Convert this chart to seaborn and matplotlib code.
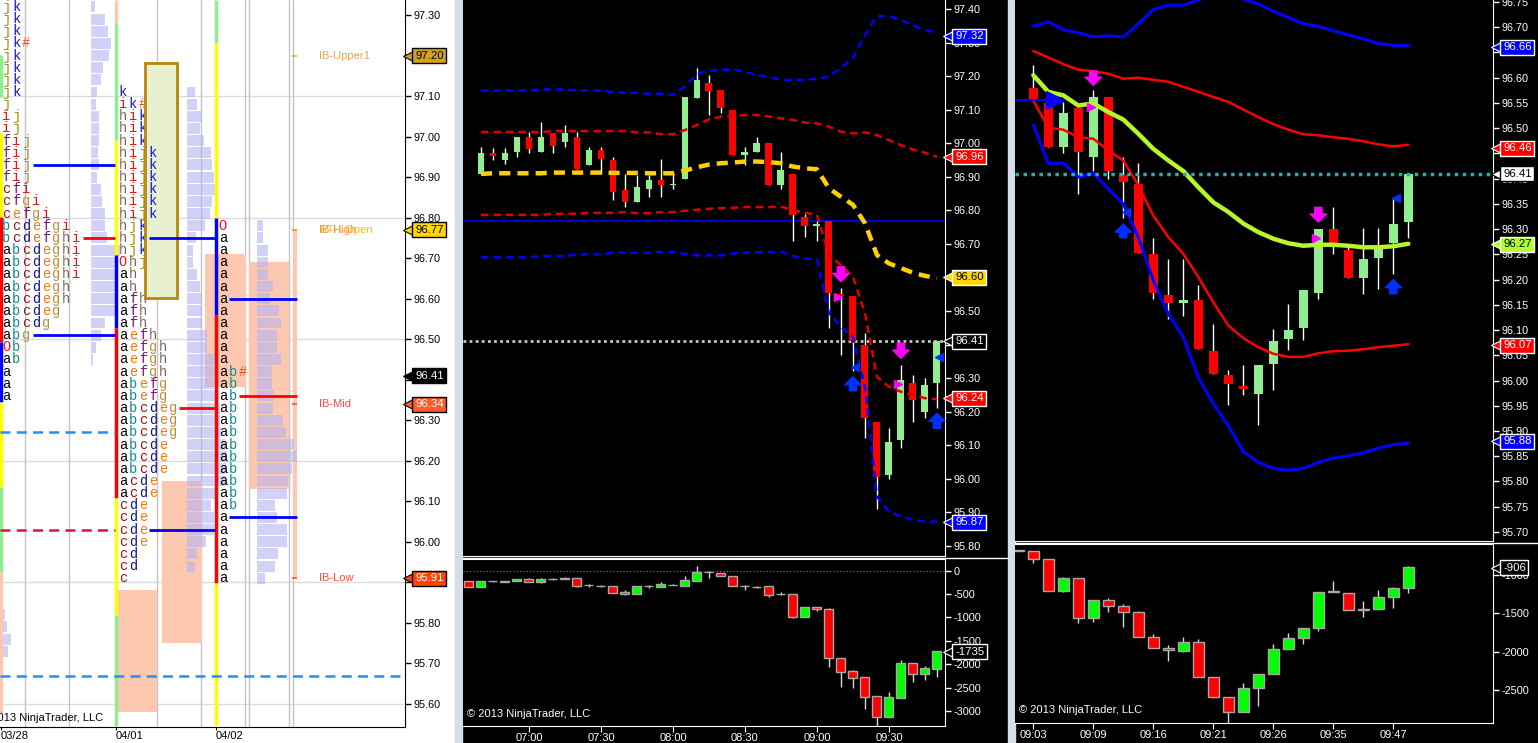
import matplotlib
matplotlib.use("Agg")
import matplotlib.pyplot as plt
import matplotlib.transforms as mtrans
from matplotlib.patches import Rectangle
from matplotlib.lines import Line2D
import numpy as np
import seaborn as sns

W, H = 1538, 743

# ---------------- left panel: TPO market profile ----------------
ROW = 0.03
S1_TOP = 97.32
S1_ROWS = ["jk", "jk", "jk", "jk#", "jk", "jk", "jk", "jk", "j", "ij", "ij",
           "fij", "fij", "fij", "fij", "cfi", "cfgi", "cefgi", "bcdefgi",
           "bcdefghi", "abcdeghi", "abcdeghi", "abcdeghi", "abcdegh",
           "abcdegh", "abcdeg", "abcdg", "abg", "Ob", "ab", "a", "a", "a"]
S2_TOP = 97.11
S2_ROWS = ["k", "ik#", "hik", "hik", "hik", "hijk", "hijk", "hijk", "hijk",
           "hijk", "hijk", "hjk", "hjk", "hjk", "Ohj", "ah", "ah", "afh",
           "afh", "afh", "aefh", "aefgh", "aefgh", "aefgh", "abefg", "abefg",
           "abcdeg", "abcdeg", "abcdeg", "abcde", "abcde", "abcde", "acde",
           "acde", "cde", "cde", "cde", "cde", "cd", "cd", "c"]
S3_TOP = 96.78
S3_ROWS = ["O", "a", "a", "a", "a", "a", "a", "a", "a", "a", "a", "a", "ab#",
           "ab", "ab", "ab", "ab", "ab", "ab", "ab", "ab", "ab", "ab", "ab",
           "a", "a", "a", "a", "a", "a"]
S0_TOP = 95.91

S1_HIST = [4, 14, 17, 20, 18, 12, 10, 6, 5, 8, 8, 8, 7, 8, 6, 10, 11, 14, 14,
           16, 29, 27, 25, 26, 24, 24, 14, 10, 5, 2]
S2_HIST = [8, 10, 15, 13, 17, 24, 25, 27, 28, 25, 23, 18, 9, 6, 6, 10, 13, 14,
           15, 15, 20, 20, 27, 27, 27, 32, 33, 33, 34, 38, 40, 39, 39, 28, 24,
           27, 27, 19, 10, 8, 0]
S3_HIST = [6, 6, 11, 11, 11, 16, 13, 22, 24, 20, 20, 24, 15, 15, 17, 16, 26,
           29, 37, 40, 35, 31, 30, 18, 20, 30, 30, 21, 18, 8]
S0_HIST = [1, 2, 3, 5, 7, 11, 8]

VAH = [96.93, 96.75, 96.60]
VAL = [96.51, 96.03, 96.06]
POC = [96.75, 96.33, 96.36]
BLUE_DASH = [96.27, 95.67]
RED_DASH = [96.03]
BOX_HIGH = [95.881, 96.149, 96.71, 96.69, 96.77]
BOX_LOW = [95.58, 95.75, 96.383, 96.13, 95.91]
IB_BOX = [97.181, 96.601]

EDGE0_TOP = [97.201, 97.009, 96.802, 96.493, 96.345, 96.135, 95.926]
EDGE0_BOT = [97.098, 96.802, 96.493, 96.345, 96.135, 95.926, 95.578]
EDGE1_TOP = [97.337, 97.280, 96.992, 96.708, 96.528, 96.108, 95.820]
EDGE1_BOT = [97.280, 96.992, 96.708, 96.528, 96.108, 95.820, 95.546]
EDGE2_TOP = [97.337, 97.231, 96.799, 96.560, 95.899]
EDGE2_BOT = [97.231, 96.799, 96.560, 95.899, 95.546]

LEVEL_NAMES = ["IB-Upper1", "RTH-Open", "IB-High", "IB-Mid", "IB-Low"]
LEVEL_PRICES = [97.20, 96.77, 96.77, 96.34, 95.91]
LEFT_TAGS = [97.20, 96.77, 96.41, 96.34, 95.91]
DATE_LABELS = ["03/28", "04/01", "04/02"]

# ---------------- middle panel: 5 minute bars ----------------
MID_START = "06:40"
MID_TIMES = ["07:00", "07:30", "08:00", "08:30", "09:00", "09:30"]
M_OPEN = [96.91, 96.97, 96.95, 96.975, 97.02, 96.975, 97.03, 97.005, 97.02,
          96.935, 96.98, 96.95, 96.86, 96.825, 96.865, 96.89, 96.875, 96.895,
          97.135, 97.18, 97.16, 97.10, 96.966, 96.975, 97.0, 96.875, 96.91,
          96.78, 96.755, 96.77, 96.55, 96.545, 96.40, 96.17, 96.01, 96.115,
          96.285, 96.2, 96.285]
M_HIGH = [96.99, 96.985, 96.985, 97.02, 97.035, 97.065, 97.03, 97.055,
          97.035, 96.99, 96.99, 96.96, 96.91, 96.905, 96.905, 96.955, 96.91,
          97.14, 97.225, 97.205, 97.16, 97.10, 96.99, 97.02, 97.0, 96.975,
          96.91, 96.79, 96.77, 96.77, 96.57, 96.545, 96.435, 96.17, 96.15,
          96.34, 96.31, 96.30, 96.41]
M_LOW = [96.91, 96.95, 96.94, 96.96, 96.97, 96.975, 96.97, 96.99, 96.925,
         96.935, 96.91, 96.83, 96.81, 96.825, 96.84, 96.84, 96.865, 96.895,
         97.135, 97.085, 97.09, 96.965, 96.935, 96.975, 96.875, 96.863, 96.71,
         96.72, 96.71, 96.45, 96.37, 96.32, 96.12, 95.91, 96.0, 96.09, 96.17,
         96.18, 96.21]
M_CLOSE = [96.97, 96.963, 96.97, 97.02, 96.983, 97.02, 96.993, 97.03, 96.925,
           96.98, 96.955, 96.855, 96.825, 96.87, 96.89, 96.875, 96.88, 97.14,
           97.19, 97.155, 97.105, 96.965, 96.974, 97.0, 96.875, 96.92, 96.785,
           96.755, 96.76, 96.555, 96.545, 96.41, 96.18, 96.005, 96.11, 96.295,
           96.235, 96.28, 96.41]
M_UP2 = [97.158, 97.158, 97.158, 97.158, 97.158, 97.161, 97.161, 97.161,
         97.158, 97.158, 97.158, 97.153, 97.151, 97.151, 97.148, 97.148,
         97.145, 97.169, 97.207, 97.217, 97.22, 97.22, 97.213, 97.204, 97.198,
         97.19, 97.19, 97.19, 97.193, 97.2, 97.225, 97.255, 97.324, 97.38,
         97.38, 97.368, 97.353, 97.338, 97.33]
M_UP1 = [97.034, 97.034, 97.034, 97.034, 97.034, 97.034, 97.037, 97.037,
         97.037, 97.037, 97.037, 97.037, 97.037, 97.033, 97.033, 97.028,
         97.027, 97.04, 97.055, 97.072, 97.08, 97.082, 97.085, 97.085, 97.08,
         97.075, 97.07, 97.062, 97.06, 97.05, 97.035, 97.03, 97.033, 97.025,
         97.01, 96.995, 96.982, 96.972, 96.96]
M_MID = [96.909, 96.911, 96.911, 96.911, 96.911, 96.911, 96.913, 96.913,
         96.913, 96.913, 96.913, 96.912, 96.912, 96.912, 96.911, 96.911,
         96.911, 96.919, 96.929, 96.937, 96.941, 96.943, 96.946, 96.946,
         96.944, 96.941, 96.931, 96.926, 96.923, 96.866, 96.841, 96.817,
         96.762, 96.667, 96.642, 96.628, 96.614, 96.605, 96.598]
M_LO1 = [96.787, 96.787, 96.787, 96.787, 96.787, 96.787, 96.79, 96.79, 96.79,
         96.793, 96.793, 96.793, 96.795, 96.792, 96.792, 96.795, 96.795,
         96.799, 96.802, 96.805, 96.807, 96.808, 96.81, 96.81, 96.81, 96.811,
         96.802, 96.793, 96.787, 96.667, 96.637, 96.603, 96.493, 96.304,
         96.274, 96.259, 96.25, 96.24, 96.237]
M_LO2 = [96.66, 96.66, 96.66, 96.66, 96.66, 96.664, 96.664, 96.664, 96.669,
         96.669, 96.669, 96.674, 96.674, 96.674, 96.674, 96.676, 96.677,
         96.67, 96.666, 96.666, 96.666, 96.672, 96.674, 96.675, 96.676,
         96.677, 96.664, 96.657, 96.654, 96.493, 96.453, 96.422, 96.274,
         95.946, 95.902, 95.887, 95.877, 95.872, 95.872]
M_LEVELS = [96.77, 96.41]
M_DOWN_ARROWS = [(30, 96.632, 96.588), (35, 96.404, 96.359)]
M_UP_ARROWS = [(31, 96.262, 96.304), (38, 96.15, 96.195)]
M_MAG_TRI = [(29.78, 96.541), (34.78, 96.282)]
M_BLUE_TRI = [(31.2, 96.334), (38.2, 96.364)]

# cumulative delta, middle (first bar one step before the price bars)
MV_OPEN = [-230, -355, -230, -232, -230, -185, -250, -180, -167, -165, -315,
           -322, -335, -463, -505, -337, -340, -302, -320, -214, -38, -57,
           -114, -337, -351, -335, -501, -491, -990, -784, -820, -1873, -2144,
           -2280, -2685, -3120, -2714, -1980, -2215, -2094]
MV_HIGH = [-228, -230, -220, -225, -180, -164, -164, -150, -143, -165, -285,
           -299, -328, -420, -335, -306, -250, -285, -107, 100, 0, -57, -114,
           -299, -328, -335, -449, -491, -784, -769, -791, -1873, -2123,
           -2280, -2685, -2586, -1909, -1980, -2037, -1717]
MV_LOW = [-356, -355, -236, -235, -230, -250, -271, -207, -185, -342, -356,
          -342, -470, -520, -505, -377, -349, -310, -320, -214, -164, -114,
          -320, -406, -377, -556, -527, -1018, -990, -862, -2052, -2479,
          -2500, -2956, -3312, -3120, -2714, -2372, -2337, -2265]
MV_CLOSE = [-355, -230, -226, -228, -185, -250, -180, -176, -163, -330, -311,
            -318, -470, -505, -335, -333, -290, -298, -200, -36, -34, -114,
            -320, -333, -347, -527, -497, -990, -784, -826, -1873, -2158,
            -2287, -2693, -3120, -2707, -1980, -2215, -2087, -1717]

# ---------------- right panel: range bars ----------------
R_TIMES = ["09:03", "09:09", "09:16", "09:21", "09:26", "09:35", "09:47"]
R_OPEN = [96.58, 96.55, 96.463, 96.54, 96.443, 96.561, 96.408, 96.39, 96.25,
          96.17, 96.154, 96.16, 96.059, 96.01, 95.99, 95.973, 96.033, 96.082,
          96.104, 96.174, 96.30, 96.259, 96.203, 96.242, 96.273, 96.314]
R_HIGH = [96.625, 96.55, 96.552, 96.54, 96.575, 96.561, 96.443, 96.432,
          96.283, 96.241, 96.241, 96.19, 96.112, 96.021, 96.031, 96.03,
          96.102, 96.152, 96.18, 96.30, 96.343, 96.271, 96.303, 96.303,
          96.362, 96.41]
R_LOW = [96.555, 96.463, 96.45, 96.37, 96.415, 96.40, 96.322, 96.253, 96.162,
         96.122, 96.127, 96.062, 96.013, 95.951, 95.971, 95.912, 95.981,
         96.06, 96.08, 96.162, 96.251, 96.203, 96.172, 96.182, 96.211, 96.283]
R_CLOSE = [96.555, 96.463, 96.531, 96.453, 96.561, 96.415, 96.393, 96.253,
           96.174, 96.154, 96.16, 96.062, 96.013, 95.993, 95.983, 96.03,
           96.079, 96.101, 96.18, 96.30, 96.273, 96.203, 96.24, 96.269, 96.31,
           96.41]
R_UP2 = [96.702, 96.711, 96.695, 96.689, 96.681, 96.683, 96.681, 96.707,
         96.735, 96.744, 96.744, 96.754, 96.768, 96.772, 96.756, 96.746,
         96.732, 96.719, 96.707, 96.702, 96.693, 96.685, 96.677, 96.668,
         96.664, 96.664]
R_UP1 = [96.653, 96.64, 96.627, 96.616, 96.613, 96.608, 96.598, 96.60,
         96.596, 96.592, 96.582, 96.572, 96.562, 96.552, 96.537, 96.522,
         96.508, 96.497, 96.488, 96.486, 96.482, 96.479, 96.474, 96.468,
         96.464, 96.467]
R_MID = [96.605, 96.572, 96.565, 96.545, 96.549, 96.532, 96.517, 96.489,
         96.459, 96.436, 96.415, 96.383, 96.353, 96.334, 96.311, 96.294,
         96.281, 96.272, 96.267, 96.269, 96.269, 96.267, 96.264, 96.264,
         96.266, 96.271]
R_LO1 = [96.555, 96.501, 96.497, 96.482, 96.479, 96.456, 96.436, 96.387,
         96.327, 96.284, 96.251, 96.205, 96.155, 96.109, 96.084, 96.066,
         96.053, 96.047, 96.047, 96.054, 96.058, 96.059, 96.062, 96.066,
         96.069, 96.072]
R_LO2 = [96.506, 96.430, 96.431, 96.403, 96.411, 96.380, 96.350, 96.284,
         96.198, 96.132, 96.086, 96.006, 95.954, 95.910, 95.859, 95.838,
         95.826, 95.822, 95.826, 95.838, 95.846, 95.851, 95.857, 95.866,
         95.873, 95.876]
R_LEVEL = 96.41
R_ENTRY = 96.555
R_DOWN_ARROWS = [(4, 96.613, 96.585), (19, 96.343, 96.314)]
R_UP_ARROWS = [(6, 96.283, 96.31), (24, 96.172, 96.2)]
R_MAG_TRI = [(3.85, 96.542), (18.85, 96.282)]
R_BLUE_TRI = [(6.2, 96.333), (24.2, 96.362)]

RV_OPEN = [-680, -691, -796, -1204, -1043, -1557, -1326, -1404, -1487,
           -1804, -1948, -1987, -1878, -2326, -2596, -2791, -2478, -2296,
           -1970, -1817, -1687, -1217, -1230, -1457, -1448, -1291, -1174]
RV_HIGH = [-680, -691, -796, -1030, -1043, -1326, -1304, -1383, -1465,
           -1774, -1913, -1813, -1839, -2326, -2596, -2413, -2296, -1904,
           -1761, -1687, -1217, -1074, -1230, -1339, -1196, -1152, -883]
RV_LOW = [-690, -839, -1204, -1217, -1630, -1609, -1478, -1674, -1804,
          -1957, -2117, -2000, -2326, -2609, -2926, -2791, -2704, -2296,
          -1970, -1904, -1726, -1226, -1457, -1543, -1448, -1426, -1239]
RV_CLOSE = [-690, -796, -1204, -1043, -1557, -1326, -1404, -1487, -1804,
            -1957, -1978, -1878, -2326, -2596, -2791, -2478, -2296, -1970,
            -1817, -1687, -1217, -1213, -1457, -1450, -1291, -1174, -900]

TPO_COLORS = {"a": "#000000", "b": "#108c8c", "c": "#9c1010", "d": "#10108c",
              "e": "#f07a10", "f": "#7a107a", "g": "#b8903c", "h": "#7a6458",
              "i": "#e81010", "j": "#a09018", "k": "#1414e0", "O": "#ff1010",
              "#": "#ff4a10"}


def px_axes(fig, x0, y0, x1, y1, bg):
    ax = fig.add_axes([x0 / W, 1 - y1 / H, (x1 - x0) / W, (y1 - y0) / H])
    ax.set_facecolor(bg)
    for s in ax.spines.values():
        s.set_visible(False)
    ax.yaxis.tick_right()
    fg = "black" if bg == "white" else "white"
    ax.tick_params(axis="y", right=True, left=False, length=4, width=1,
                   color=fg, labelcolor=fg, labelsize=7.8, pad=2,
                   direction="out")
    ax.tick_params(axis="x", bottom=False, labelbottom=False)
    ax.spines["right"].set_visible(True)
    ax.spines["right"].set_color(fg)
    return ax


def tag(fig, ax, y, txt, fc, tc, ec):
    tr = mtrans.offset_copy(ax.get_yaxis_transform(), fig=fig, x=10, y=0,
                            units="dots")
    ax.text(1, y, txt, transform=tr, ha="left", va="center", fontsize=8.2,
            color=tc, zorder=12, clip_on=False,
            bbox=dict(boxstyle="square,pad=0.22", fc=fc, ec=ec, lw=1))
    tr2 = mtrans.offset_copy(ax.get_yaxis_transform(), fig=fig, x=5, y=0,
                             units="dots")
    ax.plot([1], [y], transform=tr2, marker="<", ms=10, color=fc, mec=ec,
            mew=0.8, clip_on=False, zorder=11)


def candles(ax, x, o, h, l, c, width, up, down, edge=None, wick="white"):
    o, h, l, c = map(np.asarray, (o, h, l, c))
    x = np.asarray(x)
    cols = np.where(c >= o, up, down)
    ax.vlines(x, l, h, color=wick, lw=1, zorder=3)
    if edge is None:
        ax.bar(x, c - o, bottom=o, width=width, color=cols, lw=0, zorder=4)
    else:
        ax.bar(x, c - o, bottom=o, width=width, color=cols, edgecolor=edge,
               lw=1, zorder=4)


def band(ax, x, y, color, lw, ls):
    sns.lineplot(x=x, y=y, ax=ax, color=color, linewidth=lw, linestyle=ls,
                 estimator=None, errorbar=None, zorder=6)


def arrow(ax, x, y0, y1, color):
    ax.annotate("", xy=(x, y1), xytext=(x, y0), zorder=8,
                arrowprops=dict(arrowstyle="simple,head_length=0.45,"
                                "head_width=0.9,tail_width=0.4",
                                color=color, shrinkA=0, shrinkB=0,
                                mutation_scale=13))


def to_minutes(t):
    hh, mm = t.split(":")
    return int(hh) * 60 + int(mm)


def draw_left(fig):
    ax = px_axes(fig, 0, 0, 405, 727, "white")
    ax.set_xlim(0, 405)
    ax.set_ylim(95.543, 97.337)
    ax.set_yticks(np.round(np.arange(95.60, 97.31, 0.10), 2))
    ax.set_yticklabels([f"{v:.2f}" for v in ax.get_yticks()])
    ax.spines["bottom"].set_visible(True)
    ax.spines["bottom"].set_color("black")

    for p in [97.10, 96.80, 96.50, 96.20, 95.90, 95.60]:
        ax.axhline(p, color="#dcdcdc", lw=1, zorder=0)
    for x in [25, 69, 157, 201, 245, 249, 289, 293]:
        ax.axvline(x, color="#c4c4c4", lw=1, zorder=0)

    box_x = [(116.7, 157.3), (161.7, 201.7), (205, 245.7), (249.3, 289.3),
             (292.7, 297.3)]
    for (x0, x1), hi, lo in zip(box_x, BOX_HIGH, BOX_LOW):
        ax.add_patch(Rectangle((x0, lo), x1 - x0, hi - lo, fc="#fcc8b0",
                               ec="none", zorder=1))

    for top, hist, x0 in [(S1_TOP, S1_HIST, 91), (S2_TOP, S2_HIST, 187),
                          (S3_TOP, S3_HIST, 257), (S0_TOP, S0_HIST, 0)]:
        prices = top - ROW * np.arange(len(hist))
        ax.barh(prices, hist, left=x0, height=0.027, color="#b4b4f5",
                alpha=0.6, lw=0, zorder=2)

    ax.add_patch(Rectangle((145, IB_BOX[1]), 32, IB_BOX[0] - IB_BOX[1],
                           fc="#e8f0d0", ec="#b8860b", lw=2, zorder=3))

    for top, rows, x0 in [(S1_TOP, S1_ROWS, 6), (S2_TOP, S2_ROWS, 122.7),
                          (S3_TOP, S3_ROWS, 222.7)]:
        for k, row in enumerate(rows):
            p = top - ROW * k
            for j, ch in enumerate(row):
                hidden = top == S2_TOP and j == 2 and len(row) == 3
                ax.text(x0 + 10 * j, p, ch, color=TPO_COLORS[ch],
                        fontsize=9.8, family="Liberation Mono", ha="center",
                        va="center", zorder=2.5 if hidden else 5)

    edge_cols = [
        (1, EDGE0_TOP, EDGE0_BOT, ["#90ee90", "#ffff00", "#ff0000", "#0000ff",
                                   "#ffff00", "#90ee90", "#fcc8b0"]),
        (116, EDGE1_TOP, EDGE1_BOT, ["#fcc8b0", "#90ee90", "#ffff00",
                                     "#0000ff", "#ff0000", "#ffff00",
                                     "#90ee90"]),
        (216, EDGE2_TOP, EDGE2_BOT, ["#90ee90", "#ffff00", "#0000ff",
                                     "#ff0000", "#ffff00"]),
    ]
    for x, tops, bots, cols in edge_cols:
        ax.vlines([x] * len(tops), bots, tops, colors=cols, lw=2.5, zorder=4)

    spans = [(33, 115), (149, 215), (229, 297)]
    poc_spans = [(83, 115), (179, 215), (239, 297)]
    for (x0, x1), hi, lo in zip(spans, VAH, VAL):
        ax.hlines([hi, lo], x0, x1, color="#0000ff", lw=2, zorder=6)
    for (x0, x1), p in zip(poc_spans, POC):
        ax.hlines(p, x0, x1, color="#ff0000", lw=2, zorder=6)
    ax.hlines(BLUE_DASH[0], 0, 115, color="#1e90ff", lw=1.8,
              linestyles=(0, (4, 2.5)), zorder=6)
    ax.hlines(BLUE_DASH[1], 0, 405, color="#1e90ff", lw=1.8,
              linestyles=(0, (4, 2.5)), zorder=6)
    ax.hlines(RED_DASH[0], 0, 115, color="#dc143c", lw=1.8,
              linestyles=(0, (4, 2.5)), zorder=6)

    lab_cols = ["#e8a84c", "#ffc000", "#ff9440", "#ff4a4a", "#ff5030"]
    for name, p, col in zip(LEVEL_NAMES, LEVEL_PRICES, lab_cols):
        ax.text(319, p, name, color=col, fontsize=8, ha="left", va="center",
                zorder=7)
        ax.hlines(p, 292, 297, color=col, lw=1.2, zorder=7)

    ax.text(-20, 95.566, "© 2013 NinjaTrader, LLC", color="black",
            fontsize=8, ha="left", va="center", clip_on=True, zorder=8)

    ax.set_xticks([1, 116, 216])
    ax.set_xticklabels(DATE_LABELS)
    ax.tick_params(axis="x", bottom=True, labelbottom=True, length=2,
                   color="black", labelcolor="black", labelsize=8, pad=1)
    for lbl in ax.get_xticklabels():
        lbl.set_ha("left")

    tag_style = [("#d4a020", "black", "black"), ("#ffd700", "black", "black"),
                 ("black", "white", "black"), ("#ff5a28", "white", "black"),
                 ("#ff4500", "white", "black")]
    for p, (fc, tc, ec) in zip(LEFT_TAGS, tag_style):
        tag(fig, ax, p, f"{p:.2f}", fc, tc, ec)


def draw_middle(fig):
    bars = np.arange(len(M_OPEN))
    ax = px_axes(fig, 463, 0, 945, 556, "black")
    ax.set_xlim(-1.5, 38.67)
    ax.set_ylim(95.769, 97.428)
    ax.set_yticks(np.round(np.arange(95.80, 97.41, 0.10), 2))
    ax.set_yticklabels([f"{v:.2f}" for v in ax.get_yticks()])
    ax.spines["bottom"].set_visible(True)
    ax.spines["bottom"].set_color("white")

    ax.axhline(M_LEVELS[0], color="#0000ff", lw=1.2, zorder=2)
    ax.axhline(M_LEVELS[1], color="#c8c8c8", lw=2, ls=(0, (1, 1.2)),
               zorder=2)
    candles(ax, bars, M_OPEN, M_HIGH, M_LOW, M_CLOSE, 0.58, "#90ee90",
            "#ff0000")
    band(ax, bars, M_UP2, "#0000ff", 1.8, (0, (3, 2)))
    band(ax, bars, M_UP1, "#e00000", 1.8, (0, (3, 2)))
    band(ax, bars, M_LO1, "#e00000", 1.8, (0, (3, 2)))
    band(ax, bars, M_LO2, "#0000ff", 1.8, (0, (3, 2)))
    band(ax, bars, M_MID, "#ffd000", 3.2, (0, (2.5, 1.6)))
    for b, y0, y1 in M_DOWN_ARROWS:
        arrow(ax, b, y0, y1, "#ff00ff")
    for b, y0, y1 in M_UP_ARROWS:
        arrow(ax, b, y0, y1, "#0030ff")
    for b, p in M_MAG_TRI:
        ax.plot(b, p, marker=">", ms=6, color="#ff00ff", zorder=8)
    for b, p in M_BLUE_TRI:
        ax.plot(b, p, marker="<", ms=6, color="#0030ff", zorder=8)
    ax.set_xlabel("")
    ax.set_ylabel("")

    for p, fc, tc in [(97.32, "#0000ff", "white"), (96.96, "#ff0000", "white"),
                      (96.60, "#ffd700", "black"), (96.41, "black", "white"),
                      (96.24, "#ff0000", "white"), (95.87, "#0000ff", "white")]:
        tag(fig, ax, p, f"{p:.2f}", fc, tc, "white")

    vbars = np.arange(-1, len(MV_OPEN) - 1)
    axv = px_axes(fig, 463, 559, 945, 726, "black")
    axv.set_xlim(-1.5, 38.67)
    axv.set_ylim(-3321, 250)
    axv.set_yticks(np.arange(-3000, 1, 500))
    axv.set_yticklabels([str(v) for v in np.arange(-3000, 1, 500)])
    for s in ("top", "bottom"):
        axv.spines[s].set_visible(True)
        axv.spines[s].set_color("white")
    axv.axhline(0, color="#808080", lw=0.8, ls=(0, (1, 2)), zorder=1)
    candles(axv, vbars, MV_OPEN, MV_HIGH, MV_LOW, MV_CLOSE, 0.75, "#00ff00",
            "#ff0000", edge="#a8a8a8", wick="#d8d8d8")
    start = to_minutes(MID_START)
    axv.set_xticks([(to_minutes(t) - start) / 5 for t in MID_TIMES])
    axv.set_xticklabels(MID_TIMES)
    axv.tick_params(axis="x", bottom=True, labelbottom=True, length=4,
                    color="white", labelcolor="white", labelsize=8, pad=1)
    axv.text(0.008, 0.07, "© 2013 NinjaTrader, LLC", transform=axv.transAxes,
             color="white", fontsize=8, ha="left", va="center", zorder=9)
    tag(fig, axv, MV_CLOSE[-1] - 18, "-1735", "black", "white", "white")


def draw_right(fig):
    bars = np.arange(len(R_OPEN))
    ax = px_axes(fig, 1015, 0, 1493, 541, "black")
    ax.set_xlim(-1.22, 30.64)
    ax.set_ylim(95.682, 96.754)
    ax.set_yticks(np.round(np.arange(95.70, 96.76, 0.05), 2))
    ax.set_yticklabels([f"{v:.2f}" for v in ax.get_yticks()])
    ax.spines["bottom"].set_visible(True)
    ax.spines["bottom"].set_color("white")

    ax.axhline(R_LEVEL, color="#20b2aa", lw=2.5, ls=(0, (1, 1.3)), zorder=7)
    candles(ax, bars, R_OPEN, R_HIGH, R_LOW, R_CLOSE, 0.6, "#90ee90",
            "#ff0000")
    band(ax, bars, R_UP2, "#0000ff", 2.2, "-")
    band(ax, bars, R_UP1, "#ff0000", 1.8, "-")
    band(ax, bars, R_LO1, "#ff0000", 1.8, "-")
    band(ax, bars, R_LO2, "#0000ff", 2.2, "-")
    band(ax, bars, R_MID, "#b8f52a", 3.2, "-")
    ax.hlines(R_ENTRY, -1.3, 1.0, color="#0000ff", lw=1.5, zorder=7)
    ax.plot(1.45, R_ENTRY, marker=">", ms=13, color="#0000ff", zorder=8)
    for b, y0, y1 in R_DOWN_ARROWS:
        arrow(ax, b, y0, y1, "#ff00ff")
    for b, y0, y1 in R_UP_ARROWS:
        arrow(ax, b, y0, y1, "#0030ff")
    for b, p in R_MAG_TRI:
        ax.plot(b, p, marker=">", ms=6, color="#ff00ff", zorder=8)
    for b, p in R_BLUE_TRI:
        ax.plot(b, p, marker="<", ms=6, color="#0030ff", zorder=8)
    ax.set_xlabel("")
    ax.set_ylabel("")

    for p, fc, tc, ec in [(96.66, "#0000ff", "white", "white"),
                          (96.46, "#ff0000", "white", "white"),
                          (96.41, "white", "black", "black"),
                          (96.27, "#adff2f", "black", "white"),
                          (96.07, "#ff0000", "white", "white"),
                          (95.88, "#0000ff", "white", "white")]:
        tag(fig, ax, p, f"{p:.2f}", fc, tc, ec)

    vbars = np.arange(-1, len(RV_OPEN) - 1)
    axv = px_axes(fig, 1015, 544, 1493, 723, "black")
    axv.set_xlim(-1.22, 30.64)
    axv.set_ylim(-2930, -596)
    axv.set_yticks([-2500, -2000, -1500, -1000])
    axv.set_yticklabels(["-2500", "-2000", "-1500", "-1000"])
    for s in ("top", "bottom"):
        axv.spines[s].set_visible(True)
        axv.spines[s].set_color("white")
    candles(axv, vbars, RV_OPEN, RV_HIGH, RV_LOW, RV_CLOSE, 0.75, "#00ff00",
            "#ff0000", edge="#a8a8a8", wick="#d8d8d8")
    axv.set_xticks(np.arange(0, 4 * len(R_TIMES), 4))
    axv.set_xticklabels(R_TIMES)
    axv.tick_params(axis="x", bottom=True, labelbottom=True, length=4,
                    color="white", labelcolor="white", labelsize=8, pad=1)
    axv.text(0.008, 0.07, "© 2013 NinjaTrader, LLC", transform=axv.transAxes,
             color="white", fontsize=8, ha="left", va="center", zorder=9)
    tag(fig, axv, RV_CLOSE[-1] - 6, "-906", "black", "white", "white")


def main():
    sns.set_style("white")
    plt.rcParams["font.family"] = ["Liberation Sans", "DejaVu Sans"]
    fig = plt.figure(figsize=(W / 100, H / 100), dpi=100, facecolor="black")
    fig.add_artist(Rectangle((0, 0), 455 / W, 1, transform=fig.transFigure,
                             color="white", zorder=0))
    for x0 in (455, 1008):
        fig.add_artist(Rectangle((x0 / W, 0), 7 / W, 1,
                                 transform=fig.transFigure, color="#d6dde8",
                                 zorder=0))
    draw_left(fig)
    draw_middle(fig)
    draw_right(fig)
    fig.add_artist(Line2D([463 / W, 1008 / W], [1 - 557.5 / H] * 2,
                          color="white", lw=1))
    fig.add_artist(Line2D([1015 / W, 1.0], [1 - 542.5 / H] * 2,
                          color="white", lw=1))
    fig.savefig("out.png", dpi=100, facecolor=fig.get_facecolor())
    plt.close(fig)


if __name__ == "__main__":
    main()
